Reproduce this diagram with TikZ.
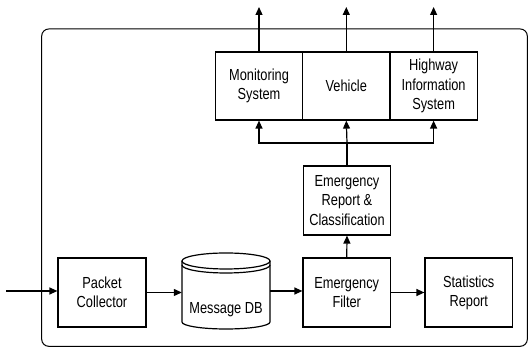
\documentclass[tikz,border=0pt]{standalone}
\usepackage{fontspec}
\setmainfont[FakeStretch=0.8]{Liberation Sans}
\usetikzlibrary{arrows.meta}
\begin{document}
\begin{tikzpicture}[x=1pt,y=1pt,
  font=\fontsize{16}{19.2}\selectfont,
  box/.style={draw,line width=1.2pt,rectangle,inner sep=0pt,align=center,minimum height=68pt,minimum width=87.3pt},
  arr/.style={line width=1.2pt,-{Triangle[length=8pt,width=7pt]}},
  ln/.style={line width=1.2pt}]
\useasboundingbox (0,0) rectangle (528,347);
% container
\draw[line width=1pt,rounded corners=7pt] (41.7,318) rectangle (527.3,0.7);
% top boxes
\node[box] (mon) at (259,261) {Monitoring\\System};
\node[box] (veh) at (346.3,261) {Vehicle};
\node[box] (hwy) at (433.6,261) {Highway\\Information\\System};
\coordinate (monout) at (259,340);
\coordinate (vehout) at (346.3,340);
\coordinate (hwyout) at (433.6,340);
\draw[arr] (mon.north) -- (monout);
\draw[arr] (veh.north) -- (vehout);
\draw[arr] (hwy.north) -- (hwyout);
% classification
\node[box,minimum height=69pt,minimum width=86.5pt] (erc) at (347,146.5) {Emergency\\Report \&\\Classification};
\coordinate (bus) at (347,204);
\draw[ln] (erc.north) -- (bus);
\draw[arr] (bus) -| (mon.south);
\draw[arr] (bus) -- (veh.south);
\draw[arr] (bus) -| (hwy.south);
% bottom row
\node[box,minimum height=69pt,minimum width=88pt] (pc) at (102,54.5) {Packet\\Collector};
\node[box,minimum height=69pt,minimum width=87.5pt] (ef) at (346.75,54.5) {Emergency\\Filter};
\node[box,minimum height=69pt,minimum width=87.5pt] (sr) at (468.75,54.5) {Statistics\\Report};
% cylinder
\node[rectangle,inner sep=0pt,minimum width=88pt,minimum height=76pt] (db) at (226,56) {};
\draw[ln] (226,86) ellipse [x radius=44, y radius=8];
\draw[ln] (182,82) arc[start angle=180,end angle=360,x radius=44,y radius=8];
\draw[ln] (182,86) -- (182,25) arc[start angle=180,end angle=360,x radius=44,y radius=7] -- (270,86);
\node (dbtext) at (226,37) {Message DB};
% connectors
\coordinate (in) at (6,56);
\draw[arr] (in) -- (in -| pc.west);
\draw[arr] (pc.east) -- (pc.east -| db.west);
\draw[arr] (db.east) -- (db.east -| ef.west);
\draw[arr] (ef.east) -- (sr.west);
\draw[arr] (ef.north) -- (erc.south);
\end{tikzpicture}
\end{document}
